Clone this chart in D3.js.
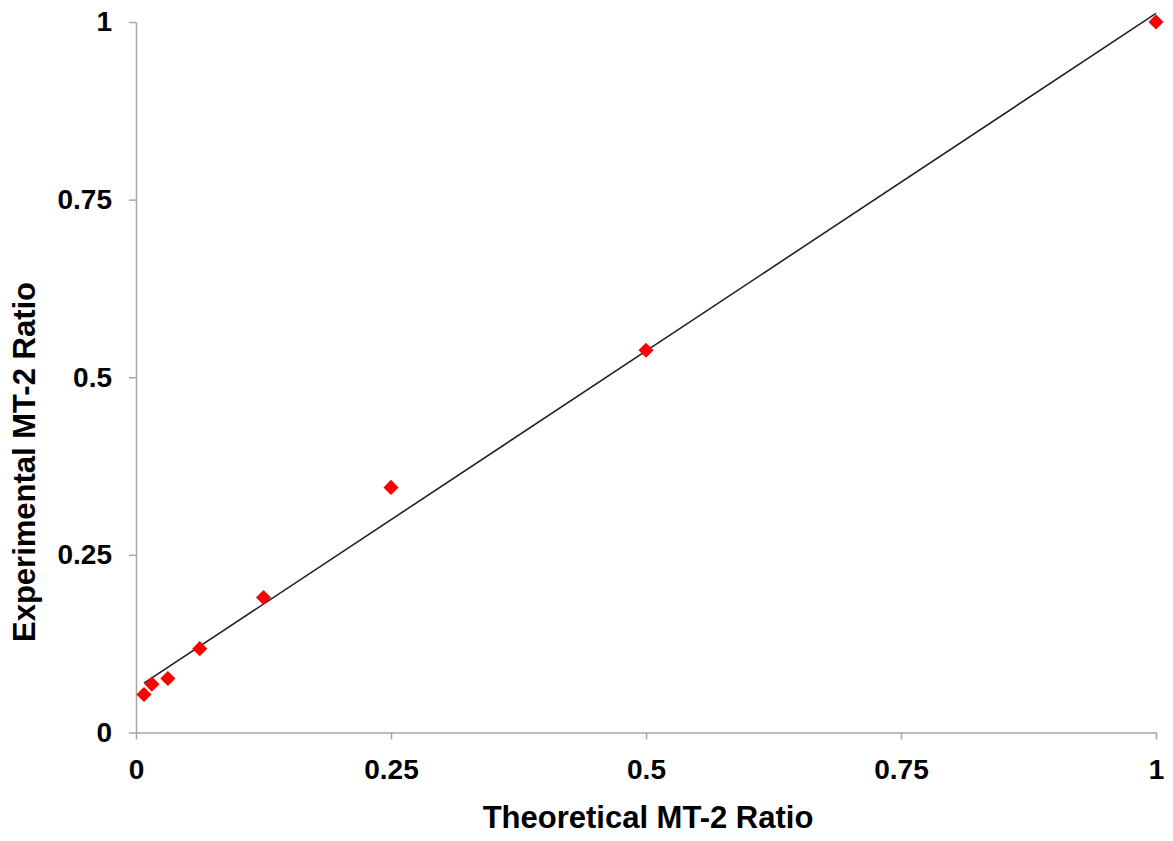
<!DOCTYPE html>
<html>
<head>
<meta charset="utf-8">
<script src="https://cdn.jsdelivr.net/npm/d3@7"></script>
<style>
html,body{margin:0;padding:0;background:#fff;}
svg text{font-family:"Liberation Sans",Arial,sans-serif;font-weight:bold;fill:#000;}
</style>
</head>
<body>
<svg id="chart" width="1173" height="841"></svg>
<script>
const theoretical = [1, 0.5, 0.25, 0.125, 0.0625, 0.03125, 0.015625, 0.0078125];
const experimental = [1, 0.538, 0.345, 0.190, 0.118, 0.076, 0.068, 0.0535];
const tickValues = [0, 0.25, 0.5, 0.75, 1];
const tickLabels = ["0", "0.25", "0.5", "0.75", "1"];
const xTitle = "Theoretical MT-2 Ratio";
const yTitle = "Experimental MT-2 Ratio";

const svg = d3.select("#chart");
const x = d3.scaleLinear().domain([0, 1]).range([136, 1156]);
const y = d3.scaleLinear().domain([0, 1]).range([732.5, 22]);

const axisColor = "#a6a6a6";

// X axis
const gx = svg.append("g").attr("transform", `translate(0,${y(0)})`)
  .call(d3.axisBottom(x).tickValues(tickValues).tickFormat((d,i)=>tickLabels[i]).tickSize(7).tickSizeOuter(0).tickPadding(20));
gx.select(".domain").attr("stroke", axisColor).attr("stroke-width", 1.5);
gx.selectAll(".tick line").attr("stroke", axisColor).attr("stroke-width", 1.5);
gx.selectAll(".tick text").attr("font-size", 28).attr("dy", "0.71em");

// Y axis
const gy = svg.append("g").attr("transform", `translate(${x(0)},0)`)
  .call(d3.axisLeft(y).tickValues(tickValues).tickFormat((d,i)=>tickLabels[i]).tickSize(7).tickSizeOuter(0).tickPadding(17));
gy.select(".domain").attr("stroke", axisColor).attr("stroke-width", 1.5);
gy.selectAll(".tick line").attr("stroke", axisColor).attr("stroke-width", 1.5);
gy.selectAll(".tick text").attr("font-size", 28);

// Linear trend line (least squares)
const n = theoretical.length;
const mx = d3.mean(theoretical), my = d3.mean(experimental);
let sxy = 0, sxx = 0;
for (let i = 0; i < n; i++) { sxy += (theoretical[i]-mx)*(experimental[i]-my); sxx += (theoretical[i]-mx)**2; }
const slope = sxy / sxx, intercept = my - slope * mx;
const [x0, x1] = d3.extent(theoretical);
svg.append("line")
  .attr("x1", x(x0)).attr("y1", y(intercept + slope * x0))
  .attr("x2", x(x1)).attr("y2", y(intercept + slope * x1))
  .attr("stroke", "#222").attr("stroke-width", 1.6);

// Points
const sym = d3.symbol().type(d3.symbolSquare).size(115);
svg.append("g").selectAll("path").data(theoretical.map((t,i)=>({t, e: experimental[i]})))
  .join("path")
  .attr("d", sym)
  .attr("transform", d => `translate(${x(d.t)},${y(d.e)}) rotate(45)`)
  .attr("fill", "#ff0000");

// Titles
svg.append("text").attr("x", 648).attr("y", 828).attr("text-anchor", "middle")
  .attr("font-size", 31).text(xTitle);
svg.append("text").attr("transform", "translate(35,462) rotate(-90)").attr("text-anchor", "middle")
  .attr("font-size", 31).text(yTitle);
</script>
</body>
</html>
